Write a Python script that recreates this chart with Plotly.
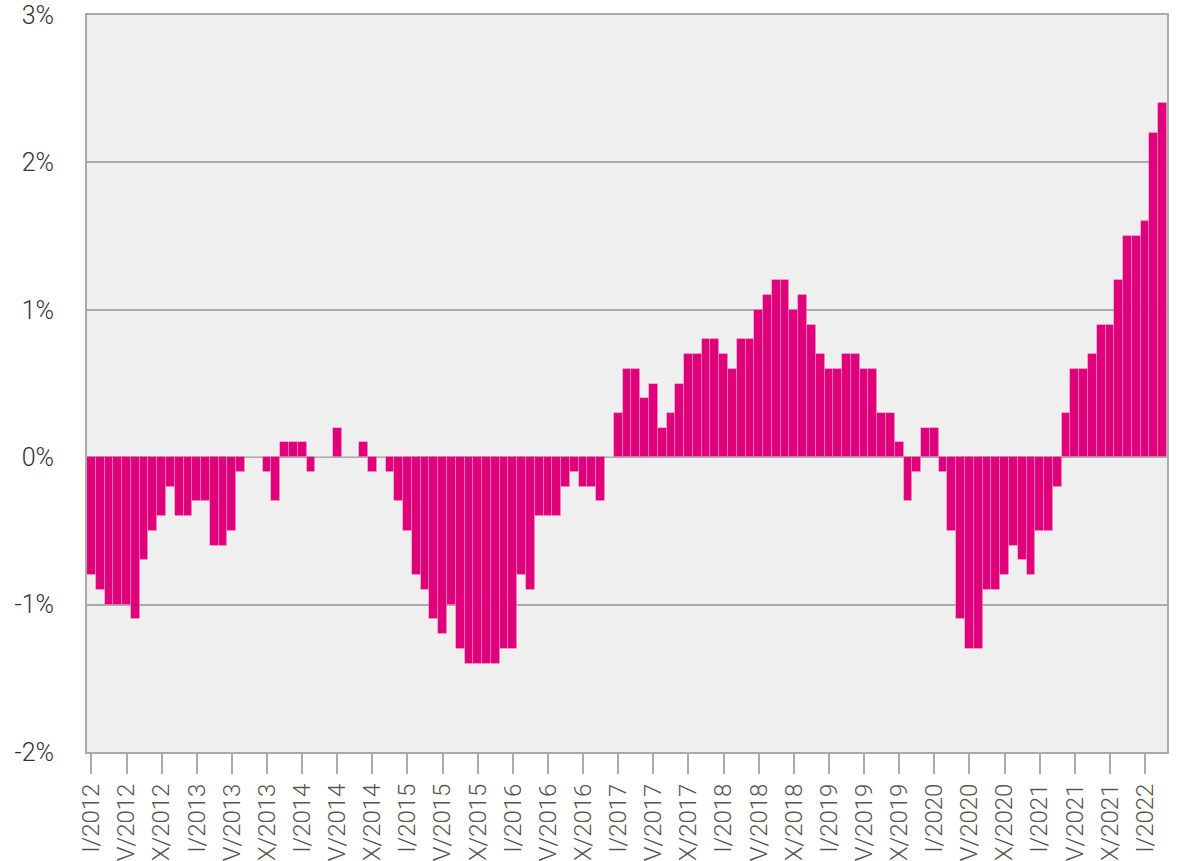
import plotly.graph_objects as go

# Year-on-year change, monthly, January 2012 to March 2022 (percent)
years = list(range(2012, 2023))
values_2012 = [-0.8, -0.9, -1.0, -1.0, -1.0, -1.1, -0.7, -0.5, -0.4, -0.2, -0.4, -0.4]
values_2013 = [-0.3, -0.3, -0.6, -0.6, -0.5, -0.1, 0.0, 0.0, -0.1, -0.3, 0.1, 0.1]
values_2014 = [0.1, -0.1, 0.0, 0.0, 0.2, 0.0, 0.0, 0.1, -0.1, 0.0, -0.1, -0.3]
values_2015 = [-0.5, -0.8, -0.9, -1.1, -1.2, -1.0, -1.3, -1.4, -1.4, -1.4, -1.4, -1.3]
values_2016 = [-1.3, -0.8, -0.9, -0.4, -0.4, -0.4, -0.2, -0.1, -0.2, -0.2, -0.3, 0.0]
values_2017 = [0.3, 0.6, 0.6, 0.4, 0.5, 0.2, 0.3, 0.5, 0.7, 0.7, 0.8, 0.8]
values_2018 = [0.7, 0.6, 0.8, 0.8, 1.0, 1.1, 1.2, 1.2, 1.0, 1.1, 0.9, 0.7]
values_2019 = [0.6, 0.6, 0.7, 0.7, 0.6, 0.6, 0.3, 0.3, 0.1, -0.3, -0.1, 0.2]
values_2020 = [0.2, -0.1, -0.5, -1.1, -1.3, -1.3, -0.9, -0.9, -0.8, -0.6, -0.7, -0.8]
values_2021 = [-0.5, -0.5, -0.2, 0.3, 0.6, 0.6, 0.7, 0.9, 0.9, 1.2, 1.5, 1.5]
values_2022 = [1.6, 2.2, 2.4]

values = (values_2012 + values_2013 + values_2014 + values_2015 + values_2016
          + values_2017 + values_2018 + values_2019 + values_2020 + values_2021
          + values_2022)
months = list(range(len(values)))

# Axis labels: Roman month numerals every four months
roman_months = ["I", "V", "IX"]
tick_positions = list(range(0, len(values), 4))
tick_labels = [f"{roman_months[(p % 12) // 4]}/{2012 + p // 12}" for p in tick_positions]

y_ticks = [-2, -1, 0, 1, 2, 3]
y_labels = ["-2%", "-1%", "0%", "1%", "2%", "3%"]

fig = go.Figure(
    go.Bar(
        x=months,
        y=values,
        marker=dict(color="#e0007a", line=dict(color="rgba(255,255,255,0.3)", width=0.8)),
        hoverinfo="y",
    )
)

fig.update_layout(
    width=1177,
    height=861,
    margin=dict(l=87, r=10, t=15, b=109),
    paper_bgcolor="white",
    plot_bgcolor="#efefef",
    bargap=0,
    showlegend=False,
    font=dict(family="Roboto, sans-serif", color="#444"),
)

fig.update_xaxes(
    range=[-0.5, len(values) - 0.5],
    tickvals=tick_positions,
    ticktext=tick_labels,
    tickangle=-90,
    ticks="outside",
    ticklen=20,
    tickwidth=2,
    tickcolor="#aaaaaa",
    tickfont=dict(size=24, color="#555", weight=300),
    showgrid=False,
    zeroline=False,
    showline=True,
    linecolor="#aaaaaa",
    linewidth=2,
    mirror=True,
    automargin=False,
)

fig.update_yaxes(
    range=[-2, 3],
    tickvals=y_ticks,
    ticktext=y_labels,
    ticks="",
    ticklabelstandoff=26,
    tickfont=dict(size=25, color="#333", weight=300),
    showgrid=True,
    gridcolor="#aaaaaa",
    gridwidth=1.5,
    zeroline=False,
    showline=True,
    linecolor="#aaaaaa",
    linewidth=2,
    mirror=True,
    automargin=False,
)

fig.write_html("out.html")
